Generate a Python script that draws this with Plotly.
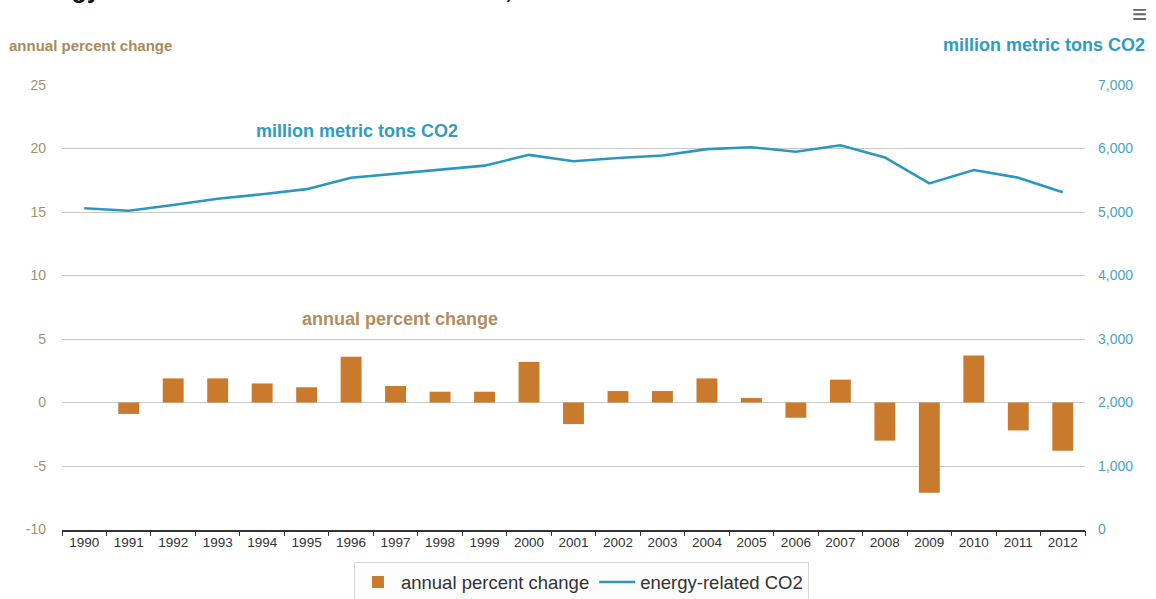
import plotly.graph_objects as go

# Years on the category axis
years = [str(y) for y in range(1990, 2013)]

# Annual percent change in energy-related CO2 (left axis, bars); 1990 has no prior year
pct_change = [None, -0.9, 1.9, 1.9, 1.5, 1.2, 3.6, 1.3, 0.85, 0.85, 3.2, -1.7,
              0.9, 0.9, 1.9, 0.35, -1.2, 1.8, -3.0, -7.1, 3.7, -2.2, -3.8]

# Energy-related CO2 emissions, million metric tons (right axis, line)
co2_mmt = [5060, 5020, 5110, 5210, 5280, 5360, 5540, 5600, 5660, 5730, 5900, 5800,
           5850, 5890, 5990, 6020, 5950, 6050, 5860, 5450, 5660, 5540, 5310]

left_ticks = [-10, -5, 0, 5, 10, 15, 20, 25]
left_tick_text = ["-10", "-5", "0", "5", "10", "15", "20", "25"]
right_ticks = [0, 1000, 2000, 3000, 4000, 5000, 6000, 7000]

BAR_COLOR = "#c97a2c"
LINE_COLOR = "#2b97bf"
TAN = "#a98b58"
TEAL = "#2f9cc0"
FONT = "Liberation Sans, Arial, sans-serif"

fig = go.Figure()

fig.add_trace(go.Bar(
    x=years, y=pct_change, name="annual percent change",
    marker=dict(color=BAR_COLOR, line=dict(width=0)),
    yaxis="y",
))

fig.add_trace(go.Scatter(
    x=years, y=co2_mmt, name="energy-related CO2",
    mode="lines", line=dict(color=LINE_COLOR, width=2.6),
    yaxis="y2",
))

fig.update_layout(
    width=1156, height=599,
    margin=dict(l=62, r=71, t=85, b=68),
    paper_bgcolor="white", plot_bgcolor="white",
    font=dict(family=FONT, size=13, color="#333333"),
    bargap=0.53,
    showlegend=True,
    legend=dict(
        orientation="h", xref="container", x=0.503, xanchor="center",
        yref="container", y=0.061, yanchor="top",
        bordercolor="#d8d8d8", borderwidth=1, bgcolor="#fcfcfc",
        font=dict(size=18.5, color="#333333"),
        itemwidth=36, traceorder="normal",
    ),
    xaxis=dict(
        type="category", categoryorder="array", categoryarray=years,
        showline=True, linecolor="#333333", linewidth=1.5,
        ticks="outside", tickson="boundaries", ticklen=5, tickcolor="#333333",
        showgrid=False, tickfont=dict(size=13.5, color="#333333"),
        fixedrange=True,
    ),
    yaxis=dict(
        range=[-10, 25], tickvals=left_ticks, ticktext=left_tick_text,
        showgrid=True, gridcolor="#c9c9c9", gridwidth=1,
        zeroline=False, showline=False, ticks="",
        ticklabelstandoff=15,
        tickfont=dict(size=14, color="#a4916a"),
    ),
    yaxis2=dict(
        range=[0, 7000], tickvals=right_ticks, tickformat=",d",
        overlaying="y", side="right", anchor="x",
        showgrid=False, zeroline=False, showline=False, ticks="",
        ticklabelstandoff=12,
        tickfont=dict(size=14, color="#4aa3be"),
    ),
    annotations=[
        # chart heading, running off the top edge
        dict(text="<b>Energy-related carbon dioxide emissions, 1990-2012</b>",
             xref="paper", yref="paper", x=-0.047, y=1.181,
             xanchor="left", yanchor="bottom", showarrow=False,
             font=dict(family=FONT, size=25, color="#111111")),
        # axis headings
        dict(text="<b>annual percent change</b>", xref="paper", yref="paper",
             x=-0.054, y=1.0897, xanchor="left", yanchor="middle", showarrow=False,
             font=dict(family=FONT, size=15, color=TAN)),
        dict(text="<b>million metric tons CO2</b>", xref="paper", yref="paper",
             x=1.0606, y=1.0897, xanchor="right", yanchor="middle", showarrow=False,
             font=dict(family=FONT, size=18, color=TEAL)),
        # series labels inside the plot
        dict(text="<b>million metric tons CO2</b>", xref="paper", yref="paper",
             x=0.2884, y=0.897, xanchor="center", yanchor="middle", showarrow=False,
             font=dict(family=FONT, size=18, color=TEAL)),
        dict(text="<b>annual percent change</b>", xref="paper", yref="paper",
             x=0.330, y=0.473, xanchor="center", yanchor="middle", showarrow=False,
             font=dict(family=FONT, size=18, color="#b08e5e")),
        # menu icon
        dict(text="≡", xref="paper", yref="paper", x=1.0535, y=1.160,
             xanchor="center", yanchor="middle", showarrow=False,
             font=dict(family=FONT, size=26, color="#666666")),
    ],
)

fig.write_html("out.html", config=dict(displayModeBar=False))
